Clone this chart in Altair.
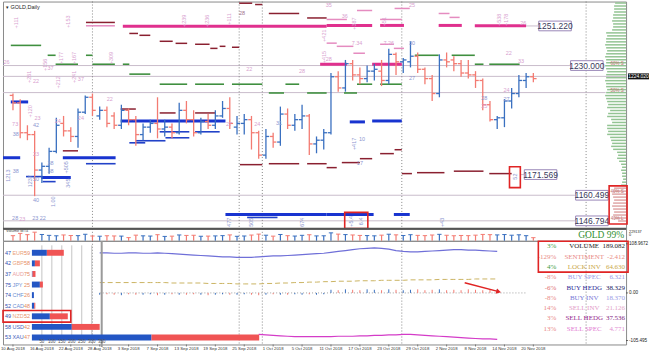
import json
import altair as alt
import pandas as pd

# ---------------------------------------------------------------- data
DATE_LABELS = ["10 Aug 2018", "16 Aug 2018", "22 Aug 2018", "28 Aug 2018", "3 Sep 2018",
               "7 Sep 2018", "13 Sep 2018", "19 Sep 2018", "25 Sep 2018", "1 Oct 2018",
               "5 Oct 2018", "11 Oct 2018", "17 Oct 2018", "23 Oct 2018", "29 Oct 2018",
               "2 Nov 2018", "8 Nov 2018", "14 Nov 2018", "20 Nov 2018"]

OPEN = [1214, 1210, 1194, 1193, 1174, 1176, 1184, 1199, 1195, 1192,
        1205, 1213, 1203, 1206, 1203, 1198, 1206, 1201, 1193, 1197,
        1199, 1196, 1197, 1194, 1206, 1201, 1194, 1200, 1198, 1203,
        1207, 1197, 1199, 1201, 1194, 1182, 1192, 1189, 1204, 1198,
        1201, 1203, 1188, 1190, 1194, 1224, 1218, 1231, 1225, 1223,
        1227, 1227, 1222, 1236, 1232, 1232, 1235, 1228, 1223, 1215,
        1233, 1233, 1231, 1226, 1225, 1222, 1209, 1201, 1202, 1211,
        1215, 1222, 1224]
HIGH = [1215, 1212, 1198, 1195, 1178, 1186, 1202, 1203, 1197, 1207,
        1214, 1215, 1208, 1208, 1205, 1209, 1207, 1203, 1199, 1201,
        1213, 1201, 1199, 1210, 1211, 1206, 1202, 1204, 1206, 1211,
        1213, 1203, 1204, 1203, 1195, 1196, 1194, 1208, 1207, 1204,
        1209, 1204, 1192, 1196, 1226, 1227, 1233, 1233, 1229, 1230,
        1231, 1233, 1239, 1237, 1234, 1243, 1237, 1229, 1225, 1236,
        1237, 1235, 1233, 1233, 1227, 1223, 1211, 1203, 1212, 1218,
        1225, 1226, 1226]
LOW = [1206, 1191, 1190, 1160, 1167, 1172, 1183, 1192, 1189, 1186,
       1204, 1203, 1201, 1197, 1196, 1196, 1198, 1187, 1190, 1194,
       1191, 1192, 1191, 1193, 1199, 1192, 1193, 1196, 1196, 1202,
       1196, 1193, 1193, 1185, 1180, 1180, 1186, 1187, 1196, 1195,
       1196, 1182, 1183, 1185, 1193, 1216, 1216, 1222, 1220, 1221,
       1222, 1219, 1220, 1225, 1226, 1229, 1226, 1220, 1211, 1213,
       1229, 1227, 1224, 1223, 1218, 1206, 1200, 1196, 1197, 1207,
       1213, 1218, 1221]
CLOSE = [1210, 1194, 1193, 1174, 1176, 1184, 1198, 1195, 1192, 1205,
         1213, 1206, 1206, 1199, 1198, 1206, 1201, 1193, 1197, 1199,
         1196, 1197, 1194, 1206, 1201, 1194, 1200, 1198, 1203, 1207,
         1199, 1199, 1201, 1194, 1182, 1192, 1189, 1204, 1198, 1201,
         1203, 1188, 1190, 1194, 1224, 1218, 1231, 1225, 1223, 1227,
         1228, 1222, 1236, 1232, 1233, 1235, 1228, 1223, 1215, 1233,
         1232, 1231, 1226, 1225, 1222, 1209, 1201, 1202, 1211, 1215,
         1222, 1224, 1223]
VOLUME = [98000, 142000, 118000, 165000, 121000, 104000, 96000, 112000, 101000, 99000,
          125000, 92000, 88000, 97000, 93000, 90000, 61000, 108000, 95000, 91000,
          117000, 84000, 89000, 112000, 103000, 106000, 87000, 90000, 94000, 99000,
          113000, 86000, 92000, 110000, 128000, 107000, 89000, 121000, 98000, 91000,
          105000, 116000, 94000, 96000, 152000, 128000, 119000, 112000, 103000, 100000,
          95000, 108000, 126000, 114000, 101000, 117000, 104000, 99000, 111000, 124000,
          106000, 97000, 102000, 99000, 108000, 122000, 118000, 113000, 120000, 107000,
          115000, 98000, 60000]
VOL_MAX = 229137

PRICE_TICKS = [1142.76, 1150.68, 1158.84, 1167.0, 1175.16, 1183.32, 1191.24, 1199.4,
               1207.56, 1215.72, 1231.8, 1239.96, 1248.12, 1256.28]
IND_TICKS = [108.9672, 0.0, -105.495]
IND_TICK_TEXT = ["108.9672", "0.00", "-105.495"]

SEPARATORS = [11.0, 31.3, 34.5, 53.8, 79.3]

# horizontal level segments: (start bar, end bar, price)
SEG_GREEN = [(-0.3, 3.9, 1240.8), (4.8, 5.9, 1235.5), (5.9, 9.0, 1230.7), (10.1, 11.0, 1235.5),
             (11.0, 14.1, 1230.7), (15.2, 16.1, 1230.7), (16.1, 19.0, 1225.4), (20.3, 24.1, 1220.0),
             (25.2, 29.2, 1220.0), (30.3, 34.5, 1220.0), (35.4, 37.5, 1215.3), (37.7, 39.6, 1220.0),
             (40.7, 43.4, 1215.3), (45.8, 47.6, 1215.3), (47.6, 49.7, 1220.0), (50.8, 53.8, 1220.0),
             (55.6, 58.9, 1235.5), (60.7, 63.9, 1235.5), (63.9, 65.1, 1230.7), (65.9, 70.1, 1230.7)]
SEG_MAGENTA = [(15.2, 43.4, 1251.0), (43.4, 49.7, 1251.5), (50.8, 54.1, 1251.5), (58.9, 62.1, 1251.5),
               (63.9, 71.0, 1251.3), (42.5, 46.2, 1230.7), (49.7, 53.8, 1230.7)]
SEG_PINK = [(10.1, 14.1, 1251.3), (43.4, 46.2, 1254.7), (50.8, 53.8, 1254.7), (52.8, 54.9, 1260.6),
            (58.9, 60.4, 1257.9), (60.4, 61.8, 1255.8), (43.4, 44.8, 1242.0), (44.8, 47.1, 1240.3),
            (47.1, 48.7, 1236.6), (50.8, 52.7, 1241.4), (52.7, 54.1, 1239.2), (47.6, 49.7, 1259.5)]
SEG_MAROON = [(10.1, 14.1, 1253.1), (16.1, 17.3, 1247.2), (17.5, 19.0, 1246.2), (20.3, 22.1, 1243.0),
              (22.5, 24.1, 1241.9), (25.2, 27.2, 1241.4), (27.3, 28.3, 1239.2), (28.6, 29.4, 1240.3),
              (30.3, 31.3, 1239.8), (31.3, 33.1, 1263.4), (33.5, 34.5, 1262.7), (35.4, 39.6, 1257.9),
              (40.7, 43.4, 1255.5), (31.4, 34.5, 1176.9), (35.4, 39.6, 1177.4), (40.7, 43.4, 1177.4),
              (43.4, 44.8, 1175.3), (45.5, 48.0, 1178.0), (48.0, 49.7, 1180.1), (50.8, 52.7, 1182.8),
              (52.8, 53.8, 1184.9), (53.8, 55.2, 1172.1), (55.9, 59.7, 1172.6), (61.0, 65.1, 1173.4),
              (65.9, 69.0, 1172.1), (14.9, 17.0, 1206.7), (20.3, 22.5, 1204.6), (25.2, 28.0, 1204.6),
              (6.9, 9.0, 1184.3)]
SEG_BLUE_THICK = [(-0.3, 2.1, 1210.5), (-1.38, 1.0, 1180.6), (3.9, 8.0, 1170.0), (6.9, 14.2, 1180.6),
                  (14.9, 29.4, 1200.3), (29.4, 43.4, 1150.2), (43.4, 49.9, 1150.2), (52.7, 54.9, 1150.2),
                  (46.6, 48.7, 1199.8), (49.7, 53.8, 1200.3)]
SEG_BLUE_THIN = [(1.8, 4.1, 1170.5), (4.1, 5.9, 1167.8), (10.1, 14.2, 1177.4), (20.3, 24.4, 1194.5),
                 (25.2, 28.6, 1194.5), (16.1, 18.3, 1188.6), (17.0, 21.1, 1189.7), (21.1, 24.4, 1191.3),
                 (32.4, 36.6, 1148.6)]
LEVELS = [(-1.38, 77.2, 1230.0), (-1.38, 84.83, 1224.2), (-1.38, 82.0, 1215.5),
          (-1.38, 77.9, 1160.499), (-1.38, 77.9, 1146.794), (70.2, 72.9, 1171.569), (71.0, 72.8, 1251.22)]

# (bar, price, text, colour group, vertical)
ANNOT = [(0.4, 1253.0, "+111", "p", 1), (7.6, 1253.5, "+153", "p", 1), (-0.9, 1232.0, "26", "p", 0),
         (4.4, 1230.4, "+156", "p", 1), (5.2, 1228.6, "37", "p", 0), (6.6, 1234.0, "+177", "p", 1),
         (8.4, 1234.0, "+167", "p", 1), (13.5, 1234.0, "+309", "p", 1), (23.7, 1254.0, "+239", "p", 1),
         (26.8, 1254.0, "+236", "p", 1), (29.9, 1255.0, "+111", "p", 1), (31.7, 1257.9, "28", "m", 0),
         (32.7, 1228.0, "22", "p", 0), (40.0, 1227.0, "28", "p", 0), (2.2, 1224.0, "+261", "p", 1),
         (3.2, 1221.7, "22", "p", 0), (6.3, 1221.0, "+212", "p", 1), (8.4, 1224.0, "+241", "p", 1),
         (9.4, 1222.7, "37", "p", 0), (43.0, 1246.0, "+421", "p", 1), (43.0, 1234.5, "+415", "p", 1),
         (13.4, 1212.0, "22", "p", 0), (2.3, 1205.5, "+120", "p", 1), (3.4, 1202.0, "23", "p", 0),
         (0.3, 1198.7, "73", "p", 0), (3.2, 1198.2, "42", "b", 0), (6.2, 1200.3, "24", "p", 0),
         (9.4, 1202.0, "24", "p", 0), (29.9, 1198.7, "27", "p", 0), (33.8, 1198.7, "24", "p", 0),
         (36.8, 1199.3, "31", "b", 0), (0.4, 1193.4, "38", "b", 0), (0.4, 1173.7, "38", "b", 0),
         (-0.7, 1171.0, "1213", "b", 1), (2.3, 1168.0, "1237", "b", 1), (3.2, 1182.7, "23", "p", 0),
         (5.2, 1178.0, "38", "b", 0), (5.2, 1173.7, "38", "b", 0), (7.3, 1175.5, "+505", "b", 1),
         (7.6, 1167.0, "345", "b", 1), (3.2, 1169.4, "50", "b", 0), (3.2, 1158.2, "40", "b", 0),
         (5.5, 1157.0, "1.00", "b", 1), (0.3, 1148.1, "28", "b", 0), (1.3, 1147.6, "23", "p", 0),
         (3.6, 1148.1, "23 22", "b", 0), (29.9, 1146.0, "477", "b", 1), (33.0, 1146.0, "505", "b", 1),
         (40.0, 1146.0, "674", "b", 1), (47.2, 1188.0, "+417", "b", 1), (48.3, 1190.5, "10", "b", 0),
         (48.0, 1178.0, "17", "b", 0), (69.4, 1170.5, "52", "b", 1), (46.8, 1146.5, "+5.4", "b", 1),
         (48.2, 1146.5, "6.4", "b", 1), (59.3, 1146.0, "+43", "b", 1), (43.7, 1262.7, "35", "p", 0),
         (55.2, 1262.7, "25", "p", 0), (45.9, 1256.3, "36", "p", 0), (47.2, 1252.5, "+387", "p", 1),
         (51.3, 1253.5, "+51", "p", 1), (67.3, 1254.5, "+538", "p", 1), (68.2, 1254.5, "+178", "p", 1),
         (70.6, 1252.6, "26", "p", 0), (55.2, 1242.0, "30", "b", 0), (68.6, 1236.6, "22", "p", 0),
         (70.3, 1232.3, "33", "p", 0), (68.3, 1216.9, "24", "p", 0), (68.3, 1212.0, "27", "b", 0),
         (65.2, 1212.6, "28", "b", 0), (65.2, 1208.3, "25", "p", 0), (55.2, 1223.3, "27", "b", 0),
         (47.6, 1242.0, "7.34", "p", 0), (52.0, 1242.0, "7.26", "p", 0), (43.7, 1233.4, "28", "p", 0)]

# boxed price labels: (text, price, centre bar)
BOXES = [("1251.220", 1251.22, 75.0), ("1230.000", 1230.0, 79.4), ("1171.569", 1171.569, 73.0),
         ("1160.499", 1160.499, 80.1), ("1146.794", 1146.794, 80.1)]
RED_BOXES = [(68.7, 70.2, 1164.6, 1175.8), (45.9, 49.1, 1142.6, 1151.3)]
CUR_PRICE = 1224.2
CUR_PRICE_TXT = "1224.020"

# volume profile (right edge), top level price and bin step
PROFILE_TOP, PROFILE_STEP = 1263.5, 1.6
PROFILE_GREEN = [11, 12, 12, 12, 13, 13, 14, 13, 13, 14, 20, 19, 20, 20, 21, 20, 19, 20, 21, 20,
                 20, 21, 20, 19, 20, 20, 21, 20, 20, 19, 20, 21, 20, 19, 18, 19, 16, 18, 19,
                 15, 14, 19, 19, 18, 19, 16, 15, 14, 15, 13, 9, 8, 9, 7, 5, 4, 5, 4, 4, 3, 4, 5]
PROFILE_BOX = [12, 13, 14, 13, 12, 13, 14, 13, 12, 13, 12, 8]
PROFILE_LABELS = [("60% S", 1230.7), ("50% S", 1216.3), ("40% S", 1162.2), ("40% L", 1148.0)]

# indicator window
IND_START = 12
PURPLE = [89, 89, 88, 88, 89, 89, 88, 88, 89, 88, 87, 86, 85, 84, 83, 82, 81, 80, 80, 79,
          79, 79, 80, 81, 82, 82, 83, 84, 85, 86, 87, 88, 90, 92, 94, 96, 98, 99, 100, 99,
          97, 94, 92, 91, 91, 92, 93, 94, 95, 96, 96, 95, 95, 94, 93, 92]
YELLOW = [23, 23, 23, 23, 23, 23, 23, 23, 23, 23, 22, 22, 22, 22, 22, 21, 21, 21, 21, 20,
          20, 20, 20, 21, 21, 22, 22, 23, 23, 24, 24, 25, 25, 26, 26, 26, 27, 27, 27, 28,
          28, 28, 28, 29, 29, 29, 29, 30, 30, 30, 30, 30, 31, 31, 31, 31]
HIST = [-4, -3, -4, -5, -3, -4, -4, -3, -5, -4, -3, -4, -4, -3, -4, -5, -4, -3, -4, -4,
        -3, -4, -5, -4, -3, -4, -4, -3, -4, -3, -4, -3,
        7, 6, 8, 7, 6, 8, 7, 6, 8, 7, 6, 7, 8, 6, 7, 8, 6, 7, 6, 8, 7, 6, 7, 8]
MAG_START = 34
MAGENTA = [-92, -93, -94, -95, -96, -97, -97, -97, -97, -97, -97, -96, -96, -96, -95, -95, -94,
           -94, -93, -93, -92, -92, -93, -94, -95, -96, -97, -98, -99, -100, -101, -102, -102, -103]
ARROW = [(62.5, 22.8), (67.2, 2.9)]
BASELINE = (12, 71)

TABLE_PCT = ["3%", "-129%", "4%", "-8%", "-6%", "-8%", "14%", "3%", "13%"]
TABLE_LABEL = ["VOLUME", "SENTIMENT", "LOCK INV", "BUY SPEC", "BUY HEDG", "BUY INV",
               "SELL INV", "SELL HEDG", "SELL SPEC"]
TABLE_VAL = ["189.082", "-2.412", "64.630", "6.321", "38.329", "18.370", "21.126", "37.536", "4.771"]

CUR = ["EUR", "GBP", "AUD", "JPY", "CHF", "CAD", "NZD", "USD", "XAU"]
CUR_LEFT = [47, 42, 37, 75, 74, 52, 49, 58, 53]
CUR_RIGHT = [59, 58, 75, 25, 26, 48, 52, 42, 47]
CUR_BLUE = [75, 15, 3, 40, 10, 12, 90, 200, 600]
CUR_RED = [85, 25, 15, 15, 0, 5, 90, 140, 540]
CUR_GRID = [50, 100, 150, 200, 250, 300, 350]

# ---------------------------------------------------------------- styles
TABLE_LABEL_COLORS = ["#1e1e1e", "#e98a86", "#c9a848", "#9a9ae6", "#2c2c96", "#7878d6",
                      "#e39ac8", "#962a8e", "#e27ad2"]
TABLE_VAL_COLORS = ["#1e1e1e", "#e98a86", "#c9a848", "#9a9ae6", "#202060", "#9a9ae6",
                    "#e3a6c8", "#7e2680", "#e28ed2"]
TABLE_PCT_COLORS = ["#3c9c3c", "#e98a86", "#3c9c3c", "#e98a86", "#e07070", "#e98a86",
                    "#e98a86", "#e98a86", "#e98a86"]
CUR_COLORS = ["#eaa27a", "#eaa27a", "#eaa2a2", "#6f8fd2", "#6f8fd2", "#6f8fd2", "#eaa27a",
              "#4a66c0", "#4a66c0"]
ANN_COLORS = {"p": "#d89fcf", "b": "#8c96cf", "m": "#a0708c"}
PROFILE_COLORS = {"green": "#93c493", "box": "#dfa6a6"}
W = 625
H_MAIN, H_VOL, H_IND = 228, 12, 104
UP, DOWN = "#3a70c0", "#f37b72"
FONT = "Liberation Sans"

XS = alt.Scale(domain=[-1.38, 84.83], nice=False, zero=False)
PS = alt.Scale(domain=[1142.5, 1264.3], nice=False, zero=False)
VS = alt.Scale(domain=[0, VOL_MAX], nice=False, zero=False)
IS = alt.Scale(domain=[-114.3, 115.6], nice=False, zero=False)
PROF_S = alt.Scale(domain=[0, W], reverse=True, nice=False, zero=False)
TS = alt.Scale(domain=[-0.55, 9.55], reverse=True, nice=False, zero=False)
CXS = alt.Scale(domain=[-145, 2980], nice=False, zero=False)
CYS = alt.Scale(domain=[-1.13, 8.66], reverse=True, nice=False, zero=False)


def col(field):
    return alt.Color(field, type="nominal", scale=None)


def xq(f, scale=XS):
    return alt.X(f, type="quantitative", scale=scale, axis=None)


def yq(f, scale=PS):
    return alt.Y(f, type="quantitative", scale=scale, axis=None)


def hsegs(rows, color, width, dash=None):
    df = pd.DataFrame(rows, columns=["a", "b", "p"])
    kw = dict(color=color, strokeWidth=width)
    if dash:
        kw["strokeDash"] = dash
    return alt.Chart(df).mark_rule(**kw).encode(x=xq("a"), x2="b:Q", y=yq("p"))


def separators():
    return alt.Chart(pd.DataFrame({"s": SEPARATORS})).mark_rule(
        color="#6a6a6a", strokeDash=[1, 2], strokeWidth=0.8).encode(x=xq("s"))


def right_labels(values, texts, scale, size=4.6):
    df = pd.DataFrame({"v": values, "t": texts})
    ticks = alt.Chart(df).mark_tick(color="#333", thickness=1, size=2, orient="horizontal").encode(
        x=alt.value(W + 1), y=yq("v", scale))
    labs = alt.Chart(df).mark_text(fontSize=size, font=FONT, align="left", color="#222").encode(
        x=alt.value(W + 3), y=yq("v", scale), text="t:N")
    return [ticks, labs]


bars = pd.DataFrame({"i": range(len(OPEN)), "o": OPEN, "h": HIGH, "l": LOW, "c": CLOSE})
bars["col"] = [UP if c >= o else DOWN for o, c in zip(OPEN, CLOSE)]

# ---------------------------------------------------------------- main panel
price_axis = alt.Axis(orient="right", values=PRICE_TICKS, format=".3f", labelFontSize=5,
                      tickSize=2, labelPadding=1, grid=False, title=None, domainColor="#333",
                      tickColor="#333", labelColor="#222", labelFont=FONT)

hl = alt.Chart(bars).mark_rule(strokeWidth=1.3).encode(
    x=xq("i"), y=alt.Y("l:Q", scale=PS, axis=price_axis), y2="h:Q", color=col("col"))
op = alt.Chart(bars).transform_calculate(xa="datum.i - 0.45").mark_rule(strokeWidth=1.3).encode(
    x=xq("xa"), x2="i:Q", y=yq("o"), color=col("col"))
cl = alt.Chart(bars).transform_calculate(xb="datum.i + 0.45").mark_rule(strokeWidth=1.3).encode(
    x=xq("i"), x2="xb:Q", y=yq("c"), color=col("col"))

ann = pd.DataFrame(ANNOT, columns=["i", "p", "t", "k", "v"])
ann["col"] = [ANN_COLORS[k] for k in ann["k"]]
ann_h = alt.Chart(ann).transform_filter("datum.v == 0").mark_text(
    fontSize=5.5, font=FONT).encode(x=xq("i"), y=yq("p"), text="t:N", color=col("col"))
ann_v = alt.Chart(ann).transform_filter("datum.v == 1").mark_text(
    fontSize=5.5, font=FONT, angle=270).encode(x=xq("i"), y=yq("p"), text="t:N", color=col("col"))

boxes = pd.DataFrame(BOXES, columns=["t", "p", "c"])
box_rect = alt.Chart(boxes).transform_calculate(
    a="datum.c - 2.25", b="datum.c + 2.25", y1="datum.p - 2.6", y2="datum.p + 2.6"
).mark_rect(fill="white", stroke="#9a88b8", strokeWidth=1).encode(
    x=xq("a"), x2="b:Q", y=yq("y1"), y2="y2:Q")
box_text = alt.Chart(boxes).mark_text(fontSize=8.5, font=FONT, color="#3a3a5a").encode(
    x=xq("c"), y=yq("p"), text="t:N")

red = pd.DataFrame(RED_BOXES, columns=["a", "b", "p1", "p2"])
red_rect = alt.Chart(red).mark_rect(fillOpacity=0, stroke="#e02424", strokeWidth=1.6).encode(
    x=xq("a"), x2="b:Q", y=yq("p1"), y2="p2:Q")

cp = pd.DataFrame({"p": [CUR_PRICE], "t": [CUR_PRICE_TXT]})
cp_rect = alt.Chart(cp).transform_calculate(
    a="85.1", b="88.0", y1="datum.p - 1.6", y2="datum.p + 1.6"
).mark_rect(color="#111").encode(x=xq("a"), x2="b:Q", y=yq("y1"), y2="y2:Q")
cp_text = alt.Chart(cp).transform_calculate(m="86.55").mark_text(
    fontSize=5, font=FONT, color="white").encode(x=xq("m"), y=yq("p"), text="t:N")

header = alt.Chart(pd.DataFrame({"t": ["\u25be GOLD,Daily"]})).mark_text(
    fontSize=5.5, font=FONT, align="left", color="#222").encode(
    x=alt.value(3), y=alt.value(5), text="t:N")

price_layers = alt.layer(
    hsegs(LEVELS, "#c9bccb", 1),
    separators(),
    hsegs(SEG_GREEN, "#3f8f3f", 1.6),
    hsegs(SEG_BLUE_THIN, "#2242c8", 1.6),
    hsegs(SEG_BLUE_THICK, "#1834d0", 3),
    hsegs(SEG_MAROON, "#8a2030", 1.5),
    hsegs(SEG_PINK, "#e58cc0", 1.5),
    hsegs(SEG_MAGENTA, "#e0308e", 3),
    hl, op, cl,
    ann_h, ann_v,
    box_rect, box_text, red_rect, cp_rect, cp_text, header,
)

prof_rows = ([{"p": PROFILE_TOP - PROFILE_STEP * k, "v": v, "g": "green"}
              for k, v in enumerate(PROFILE_GREEN)] +
             [{"p": PROFILE_TOP - PROFILE_STEP * (len(PROFILE_GREEN) + k), "v": v, "g": "box"}
              for k, v in enumerate(PROFILE_BOX)])
prof = pd.DataFrame(prof_rows)
prof["col"] = [PROFILE_COLORS[g] for g in prof["g"]]
prof_bars = alt.Chart(prof).transform_calculate(z="0").mark_rule(strokeWidth=1.5).encode(
    x=xq("z", PROF_S), x2="v:Q", y=yq("p"), color=col("col"))
pb = PROFILE_TOP - PROFILE_STEP * len(PROFILE_GREEN)
prof_box = alt.Chart(pd.DataFrame({"a": [-1], "b": [17], "p1": [pb - PROFILE_STEP * len(PROFILE_BOX)],
                                   "p2": [pb + 1.2]})).mark_rect(
    fillOpacity=0, stroke="#e02424", strokeWidth=1.6).encode(
    x=xq("a", PROF_S), x2="b:Q", y=yq("p1"), y2="p2:Q")
prof_lab = alt.Chart(pd.DataFrame(PROFILE_LABELS, columns=["t", "p"])).transform_calculate(
    z="9").mark_text(fontSize=4.5, font=FONT, color="#c07070").encode(
    x=xq("z", PROF_S), y=yq("p"), text="t:N")
prof_layers = alt.layer(prof_bars, prof_box, prof_lab)

main = alt.layer(price_layers, prof_layers).resolve_scale(x="independent").properties(
    width=W, height=H_MAIN)

# ---------------------------------------------------------------- volume strip
vol = pd.DataFrame({"i": range(len(VOLUME)), "v": VOLUME, "col": bars["col"]})
vol_ticks = alt.Chart(vol).transform_calculate(z="0").mark_rule(strokeWidth=1.2).encode(
    x=xq("i"), y=yq("v", VS), y2="z:Q", color=col("col"))
vol_tops = alt.Chart(vol).transform_calculate(a="datum.i - 0.3", b="datum.i + 0.3").mark_rule(
    strokeWidth=1).encode(x=xq("a"), x2="b:Q", y=yq("v", VS), color=col("col"))
gold = alt.Chart(pd.DataFrame({"t": ["GOLD 99%"]})).mark_text(
    font="Liberation Serif", fontSize=9.5, color="#2f8f2f").encode(
    x=alt.value(600), y=alt.value(6.5), text="t:N")
vol_lab = alt.Chart(pd.DataFrame({"t": ["Volume MT4"]})).mark_text(
    font=FONT, fontSize=4, color="#444", align="left").encode(
    x=alt.value(3), y=alt.value(2.5), text="t:N")
top_border = alt.Chart(pd.DataFrame({"t": [0]})).mark_rule(color="#555", strokeWidth=2).encode(
    x=alt.value(0), x2=alt.value(W), y=alt.value(0))
vol_scale_lab = alt.Chart(pd.DataFrame({"t": [str(VOL_MAX), "0"], "r": [0, 1]})).transform_calculate(
    yy="3.2 + datum.r * 3.4").mark_text(fontSize=3.8, font=FONT, align="left", color="#222").encode(
    x=alt.value(W + 3), y=alt.Y("yy:Q", scale=alt.Scale(domain=[0, H_VOL], range=[0, H_VOL]), axis=None),
    text="t:N")
vol_panel = alt.layer(separators(), vol_ticks, vol_tops, gold, vol_lab, top_border,
                      vol_scale_lab).resolve_scale(y="independent").properties(width=W, height=H_VOL)

# ---------------------------------------------------------------- indicator panel
ind_df = pd.DataFrame({"i": range(IND_START, IND_START + len(PURPLE)), "pu": PURPLE, "ye": YELLOW,
                       "h": HIST})
ind_df["col"] = [bars["col"][i] for i in ind_df["i"]]
mag_df = pd.DataFrame({"i": range(MAG_START, MAG_START + len(MAGENTA)), "m": MAGENTA})

purple = alt.Chart(ind_df).mark_line(color="#6f6fd8", strokeWidth=1.2).encode(
    x=xq("i"), y=yq("pu", IS))
yellow = alt.Chart(ind_df).mark_line(color="#cbb462", strokeWidth=1, strokeDash=[5, 3]).encode(
    x=xq("i"), y=yq("ye", IS))
magenta = alt.Chart(mag_df).mark_line(color="#d43cc8", strokeWidth=1.2).encode(
    x=xq("i"), y=yq("m", IS))
baseline = alt.Chart(pd.DataFrame({"a": [BASELINE[0]], "b": [BASELINE[1]], "y": [0]})).mark_rule(
    color="#888", strokeDash=[1, 2], strokeWidth=0.8).encode(x=xq("a"), x2="b:Q", y=yq("y", IS))
hist = alt.Chart(ind_df).transform_calculate(z="0").mark_rule(strokeWidth=1).encode(
    x=xq("i"), y=yq("z", IS), y2="h:Q", color=col("col"))
arrow_df = pd.DataFrame({"a": [ARROW[0][0]], "b": [ARROW[1][0]], "y1": [ARROW[0][1]], "y2": [ARROW[1][1]]})
arrow_line = alt.Chart(arrow_df).mark_rule(color="#e02424", strokeWidth=1.5).encode(
    x=xq("a"), x2="b:Q", y=yq("y1", IS), y2="y2:Q")
arrow_head = alt.Chart(arrow_df).mark_point(shape="triangle-right", angle=15, filled=True,
                                            size=30, color="#e02424", opacity=1).encode(
    x=xq("b"), y=yq("y2", IS))
dates_df = pd.DataFrame({"i": [4 * k for k in range(len(DATE_LABELS))], "t": DATE_LABELS})
date_ticks = alt.Chart(dates_df).mark_tick(color="#555", thickness=1, size=2).encode(
    x=xq("i"), y=alt.value(H_IND + 1))
date_text = alt.Chart(dates_df).mark_text(fontSize=4.3, font=FONT, color="#333",
                                          baseline="top").encode(
    x=xq("i"), y=alt.value(H_IND + 3), text="t:N")
ind_main = alt.layer(separators(), baseline, hist, yellow, purple, magenta, arrow_line, arrow_head,
                     date_ticks, date_text, *right_labels(IND_TICKS, IND_TICK_TEXT, IS))

tab = pd.DataFrame({"row": range(len(TABLE_LABEL)), "pct": TABLE_PCT, "lab": TABLE_LABEL,
                    "val": TABLE_VAL, "pc": TABLE_PCT_COLORS, "lc": TABLE_LABEL_COLORS,
                    "vc": TABLE_VAL_COLORS})
t_pct = alt.Chart(tab).mark_text(font="Liberation Serif", fontSize=7, align="right").encode(
    x=alt.value(555), y=yq("row", TS), text="pct:N", color=col("pc"))
t_lab = alt.Chart(tab).mark_text(font="Liberation Serif", fontSize=7, align="center").encode(
    x=alt.value(583), y=yq("row", TS), text="lab:N", color=col("lc"))
t_val = alt.Chart(tab).mark_text(font="Liberation Serif", fontSize=7, align="right").encode(
    x=alt.value(624), y=yq("row", TS), text="val:N", color=col("vc"))
t_box = alt.Chart(pd.DataFrame({"a": [-0.5], "b": [2.5]})).mark_rect(
    fillOpacity=0, stroke="#e02424", strokeWidth=1.6).encode(
    x=alt.value(537), x2=alt.value(627), y=yq("a", TS), y2="b:Q")
table = alt.layer(t_pct, t_lab, t_val, t_box)

cur = pd.DataFrame({"row": range(len(CUR)), "cur": CUR, "ln": [str(v) for v in CUR_LEFT],
                    "rn": [str(v) for v in CUR_RIGHT], "blue": CUR_BLUE, "red": CUR_RED,
                    "cc": CUR_COLORS})
grid_df = pd.DataFrame({"g": CUR_GRID, "t": [str(v) for v in CUR_GRID]})
c_grid = alt.Chart(grid_df).transform_calculate(a="-0.7", b="7.9").mark_rule(
    color="#c4c4c4", strokeWidth=1).encode(x=xq("g", CXS), y=yq("a", CYS), y2="b:Q")
c_border = alt.Chart(grid_df).transform_filter("datum.g == 350").transform_calculate(
    a="-1.1", b="8.9").mark_rule(color="#9a9a9a", strokeWidth=2).encode(
    x=xq("g", CXS), y=yq("a", CYS), y2="b:Q")
c_glab = alt.Chart(grid_df).transform_calculate(r="8.45").mark_text(
    fontSize=4.5, font=FONT, color="#555").encode(x=xq("g", CXS), y=yq("r", CYS), text="t:N")
c_blue = alt.Chart(cur).transform_calculate(z="0", y1="datum.row - 0.28", y2="datum.row + 0.28").mark_rect(
    color="#2356c4").encode(x=xq("z", CXS), x2="blue:Q", y=yq("y1", CYS), y2="y2:Q")
c_red = alt.Chart(cur).transform_filter("datum.red > 0").transform_calculate(
    s="datum.blue", e="datum.blue + datum.red", y1="datum.row - 0.28", y2="datum.row + 0.28").mark_rect(
    color="#f05454").encode(x=xq("s", CXS), x2="e:Q", y=yq("y1", CYS), y2="y2:Q")
c_ln = alt.Chart(cur).mark_text(fontSize=5.5, font=FONT, align="left", color="#3050b0").encode(
    x=alt.value(2), y=yq("row", CYS), text="ln:N")
c_cur = alt.Chart(cur).mark_text(fontSize=5.5, font=FONT, align="left").encode(
    x=alt.value(9.5), y=yq("row", CYS), text="cur:N", color=col("cc"))
c_rn = alt.Chart(cur).mark_text(fontSize=5.5, font=FONT, align="left", color="#e58a60").encode(
    x=alt.value(21), y=yq("row", CYS), text="rn:N")
c_box = alt.Chart(pd.DataFrame({"a": [5.45], "b": [6.55]})).mark_rect(
    fillOpacity=0, stroke="#e02424", strokeWidth=1.6).encode(
    x=alt.value(0), x2=alt.value(68), y=yq("a", CYS), y2="b:Q")
currency = alt.layer(c_grid, c_border, c_blue, c_red, c_glab, c_ln, c_cur, c_rn, c_box)

ind_panel = alt.layer(ind_main, table, currency).resolve_scale(
    x="independent", y="independent").properties(width=W, height=H_IND)

# ---------------------------------------------------------------- assemble
chart = alt.vconcat(main, vol_panel, ind_panel, spacing=0, bounds="flush").properties(
    padding={"left": 0, "top": 0, "right": 0, "bottom": 0}, background="white"
).configure_view(stroke="#8a8a8a", strokeWidth=1)

chart.save("out.html", embed_options={"renderer": "svg", "actions": False})
